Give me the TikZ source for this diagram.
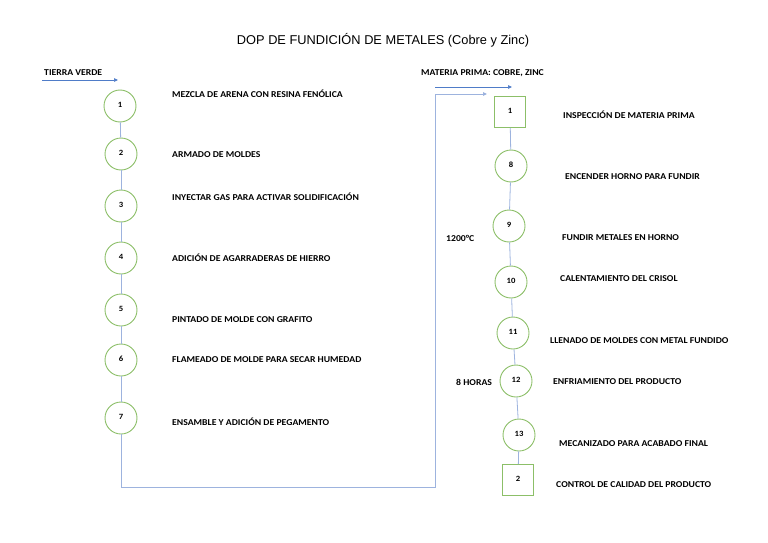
\documentclass[tikz,border=0pt]{standalone}
\usepackage{fontspec}
\setmainfont{Carlito}
\newfontfamily\dopfont[FakeStretch=1.08]{Carlito}
\newfontfamily\titlefont{Liberation Sans}
\usetikzlibrary{arrows.meta, positioning}
\definecolor{dopgreen}{HTML}{8CBF68}
\definecolor{dopblue}{HTML}{4F7CC8}
\definecolor{doplink}{HTML}{9DB3DE}
\tikzset{
  dopop/.style={circle, draw=dopgreen, line width=0.9pt, fill=white,
    minimum size=32pt, inner sep=0pt, font=\dopfont\bfseries\fontsize{8}{9}\selectfont},
  dopinsp/.style={rectangle, draw=dopgreen, line width=0.9pt, fill=white,
    minimum size=31pt, inner sep=0pt, font=\dopfont\bfseries\fontsize{8}{9}\selectfont},
  doptext/.style={anchor=west, inner sep=0pt, font=\dopfont\bfseries\fontsize{9}{10}\selectfont},
  doplink/.style={draw=doplink, line width=0.8pt},
  dopflow/.style={draw=dopblue, line width=0.7pt, -{Triangle[length=4pt, width=3.5pt]}},
  dopback/.style={draw=doplink, line width=0.9pt, -{Triangle[length=4pt, width=3.5pt, fill=dopblue]}},
}

\begin{document}
\begin{tikzpicture}[x=1pt, y=-1pt]
  \useasboundingbox (0,0) rectangle (768,543);
  \node[font=\titlefont\fontsize{12.8}{14}\selectfont] (title) at (383,40) {DOP DE FUNDICIÓN DE METALES (Cobre y Zinc)};
  % columna izquierda
  \node[dopop] (c1) at (120,106) {\raisebox{3pt}{1}};
  \node[dopop] (c2) at (121,154) {\raisebox{3pt}{2}};
  \node[dopop] (c3) at (121,206) {\raisebox{3pt}{3}};
  \node[dopop] (c4) at (121,258) {\raisebox{3pt}{4}};
  \node[dopop] (c5) at (121,310) {\raisebox{3pt}{5}};
  \node[dopop] (c6) at (121,360) {\raisebox{3pt}{6}};
  \node[dopop] (c7) at (121,418) {\raisebox{3pt}{7}};
  \node[doptext] (t1) at (172,94) {MEZCLA DE ARENA CON RESINA FENÓLICA};
  \node[doptext] (t2) at (172,155) {ARMADO DE MOLDES};
  \node[doptext] (t3) at (172,197) {INYECTAR GAS PARA ACTIVAR SOLIDIFICACIÓN};
  \node[doptext] (t4) at (172,258) {ADICIÓN DE AGARRADERAS DE HIERRO};
  \node[doptext] (t5) at (172,320) {PINTADO DE MOLDE CON GRAFITO};
  \node[doptext] (t6) at (172,360) {FLAMEADO DE MOLDE PARA SECAR HUMEDAD};
  \node[doptext] (t7) at (172,422) {ENSAMBLE Y ADICIÓN DE PEGAMENTO};
  \node[doptext] (tv) at (44,73) {TIERRA VERDE};
  \coordinate (tvA) at (42,80);
  \coordinate (tvB) at (118,80);
  \draw[dopflow] (tvA) -- (tvB);
  \foreach \a/\b in {c1/c2, c2/c3, c3/c4, c4/c5, c5/c6, c6/c7}
    \draw[doplink] (\a) -- (\b);
  % columna derecha
  \node[dopinsp] (s1) at (510,112) {\raisebox{3pt}{1}};
  \node[dopop] (c8) at (511,166) {\raisebox{3pt}{8}};
  \node[dopop] (c9) at (509,226) {\raisebox{3pt}{9}};
  \node[dopop] (c10) at (511,282) {\raisebox{3pt}{10}};
  \node[dopop] (c11) at (513,333) {\raisebox{3pt}{11}};
  \node[dopop] (c12) at (516,381) {\raisebox{3pt}{12}};
  \node[dopop] (c13) at (519,435) {\raisebox{3pt}{13}};
  \node[dopinsp] (s2) at (518,480) {\raisebox{3pt}{2}};
  \node[doptext] (r1) at (563,115) {INSPECCIÓN DE MATERIA PRIMA};
  \node[doptext] (r8) at (565,177) {ENCENDER HORNO PARA FUNDIR};
  \node[doptext] (r9) at (562,238) {FUNDIR METALES EN HORNO};
  \node[doptext] (r10) at (560,279) {CALENTAMIENTO DEL CRISOL};
  \node[doptext] (r11) at (550,341) {LLENADO DE MOLDES CON METAL FUNDIDO};
  \node[doptext] (r12) at (553,382) {ENFRIAMIENTO DEL PRODUCTO};
  \node[doptext] (r13) at (559,444) {MECANIZADO PARA ACABADO FINAL};
  \node[doptext] (r2) at (556,485) {CONTROL DE CALIDAD DEL PRODUCTO};
  \node[doptext] (temp) at (446,238) {1200°C};
  \node[doptext] (time) at (456,382) {8 HORAS};
  \node[doptext] (mp) at (421,73) {MATERIA PRIMA: COBRE, ZINC};
  \coordinate (mpA) at (435,87);
  \coordinate (mpB) at (512,87);
  \draw[dopflow] (mpA) -- (mpB);
  \foreach \a/\b in {s1/c8, c8/c9, c9/c10, c10/c11, c11/c12, c12/c13, c13/s2}
    \draw[doplink] (\a) -- (\b);
  % union de ambas columnas
  \coordinate (turn) at (435,487);
  \coordinate (inA) at (487,94);
  \draw[dopback] (c7.south) |- (turn) |- (inA);
\end{tikzpicture}
\end{document}
